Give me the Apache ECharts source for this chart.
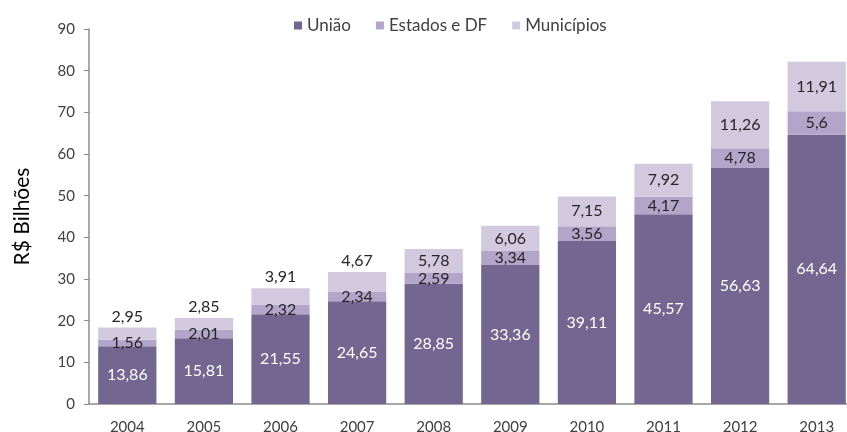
<!DOCTYPE html>
<html>
<head>
<meta charset="utf-8">
<script src="https://cdn.jsdelivr.net/npm/echarts@6/dist/echarts.min.js"></script>
<style>
  html, body { margin: 0; padding: 0; background: #fff; }
  #chart { width: 847px; height: 432px; }
</style>
</head>
<body>
<div id="chart"></div>
<script>
const years = ['2004', '2005', '2006', '2007', '2008', '2009', '2010', '2011', '2012', '2013']
const uniao = [13.86, 15.81, 21.55, 24.65, 28.85, 33.36, 39.11, 45.57, 56.63, 64.64]
const estados = [1.56, 2.01, 2.32, 2.34, 2.59, 3.34, 3.56, 4.17, 4.78, 5.6]
const municipios = [2.95, 2.85, 3.91, 4.67, 5.78, 6.06, 7.15, 7.92, 11.26, 11.91]

const font = 'Lato, "Open Sans", sans-serif'
const fmt = p => String(p.value).replace('.', ',')

// small top segments get their label above the bar, like the original
const municipiosData = municipios.map(v => (
  v < 5 ? { value: v, label: { position: 'top', distance: 3 } } : v
))

const chart = echarts.init(document.getElementById('chart'))
chart.setOption({
  animation: false,
  textStyle: { fontFamily: font },
  color: ['#736690', '#b2a5c9', '#d2c9df'],
  legend: {
    top: 12,
    left: 289,
    icon: 'rect',
    itemWidth: 8,
    itemHeight: 8,
    itemGap: 25,
    textStyle: { fontSize: 17, color: '#404040', fontFamily: font },
  },
  // plot runs past the right edge, as in the cropped original
  grid: { left: 89, right: -8, top: 29, bottom: 28, outerBoundsMode: 'none' },
  xAxis: {
    type: 'category',
    data: years,
    axisLine: { lineStyle: { color: '#8c8c8c', width: 1.5 } },
    axisTick: { length: 5, lineStyle: { color: '#8c8c8c' } },
    axisLabel: { fontSize: 15, color: '#404040', margin: 16 },
  },
  yAxis: {
    type: 'value',
    min: 0,
    max: 90,
    interval: 10,
    name: 'R$ Bilhões',
    nameLocation: 'middle',
    nameGap: 56,
    nameTextStyle: { fontSize: 21, color: '#000', fontFamily: font },
    splitLine: { show: false },
    axisLine: { show: true, lineStyle: { color: '#8c8c8c', width: 1.5 } },
    axisTick: { show: true, length: 5, lineStyle: { color: '#8c8c8c' } },
    axisLabel: { fontSize: 15, color: '#404040', margin: 14 },
  },
  series: [
    {
      name: 'União',
      type: 'bar',
      stack: 'total',
      barWidth: '76%',
      data: uniao,
      label: { show: true, position: 'inside', color: '#fff', fontSize: 16, formatter: fmt },
    },
    {
      name: 'Estados e DF',
      type: 'bar',
      stack: 'total',
      data: estados,
      label: { show: true, position: 'inside', color: '#262626', fontSize: 16, formatter: fmt },
    },
    {
      name: 'Municípios',
      type: 'bar',
      stack: 'total',
      data: municipiosData,
      label: { show: true, position: 'inside', color: '#262626', fontSize: 16, formatter: fmt },
    },
  ],
})
</script>
</body>
</html>
